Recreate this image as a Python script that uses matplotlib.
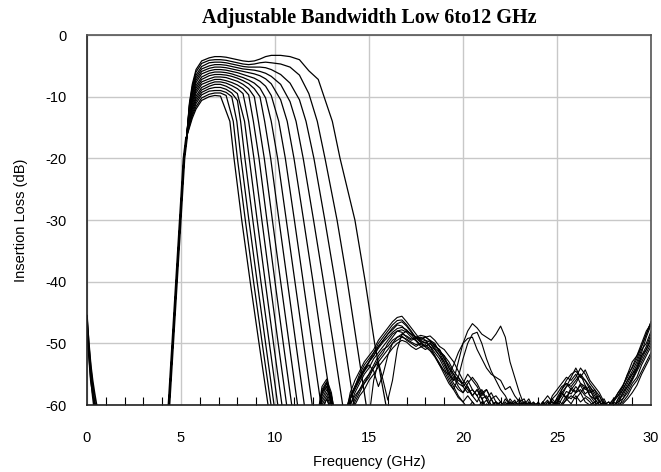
import numpy as np
import matplotlib
matplotlib.use("Agg")
import matplotlib.pyplot as plt
from matplotlib.ticker import MultipleLocator

plt.rcParams["axes.unicode_minus"] = False
nan = np.nan

# shared rising edge (GHz, dB)
rise_f = [4.25, 4.36, 4.56, 4.76, 4.96, 5.16, 5.3]
rise_db = [-64, -60, -50, -40, -30, -20, -16.5]

# passband top, one row per curve (widest -> narrowest)
plat_f = [5.45, 5.6, 5.8, 6.1, 6.5, 6.8, 7.1, 7.4, 7.7, 8.0, 8.3, 8.6, 8.9, 9.2, 9.5, 9.8, 10.3, 10.8, 11.3, 11.8, 12.3]
plat_db = [
    [-11.0, -8.0, -5.6, -4.2, -3.7, -3.5, -3.5, -3.6, -3.8, -4.0, -4.2, -4.3, -4.2, -3.9, -3.5, -3.3, -3.3, -3.5, -4.0, -5.8, -7.2],
    [-11.3, -8.4, -6.0, -4.6, -4.1, -4.0, -4.0, -4.1, -4.3, -4.5, -4.7, -4.8, -4.7, -4.5, -4.4, -4.5, -4.7, -5.2, -6.5, -9.5, nan],
    [-11.5, -8.7, -6.5, -5.1, -4.5, -4.4, -4.4, -4.5, -4.7, -4.9, -5.1, -5.2, -5.2, -5.2, -5.3, -5.6, -6.4, -7.8, -10.5, nan, nan],
    [-11.8, -9.1, -6.9, -5.5, -5.0, -4.8, -4.8, -4.9, -5.1, -5.3, -5.5, -5.6, -5.7, -5.9, -6.2, -6.7, -8.0, -10.8, nan, nan, nan],
    [-12.1, -9.5, -7.3, -5.9, -5.4, -5.2, -5.2, -5.3, -5.5, -5.7, -5.9, -6.1, -6.3, -6.6, -7.1, -7.9, -10.5, nan, nan, nan, nan],
    [-12.3, -9.8, -7.7, -6.3, -5.8, -5.6, -5.6, -5.7, -5.9, -6.1, -6.4, -6.7, -7.0, -7.5, -8.3, -9.8, nan, nan, nan, nan, nan],
    [-12.6, -10.2, -8.2, -6.8, -6.2, -6.0, -6.0, -6.1, -6.3, -6.6, -6.9, -7.3, -7.8, -8.6, -10.2, nan, nan, nan, nan, nan, nan],
    [-12.9, -10.6, -8.6, -7.2, -6.6, -6.4, -6.4, -6.5, -6.7, -7.0, -7.4, -7.9, -8.7, -10.0, nan, nan, nan, nan, nan, nan, nan],
    [-13.1, -10.9, -9.0, -7.6, -7.1, -6.8, -6.8, -6.9, -7.2, -7.5, -8.0, -8.7, -10.0, nan, nan, nan, nan, nan, nan, nan, nan],
    [-13.4, -11.3, -9.4, -8.0, -7.5, -7.2, -7.2, -7.4, -7.7, -8.1, -8.7, -9.7, nan, nan, nan, nan, nan, nan, nan, nan, nan],
    [-13.7, -11.7, -9.9, -8.5, -7.9, -7.6, -7.6, -7.8, -8.2, -8.7, -9.5, nan, nan, nan, nan, nan, nan, nan, nan, nan, nan],
    [-13.9, -12.0, -10.3, -8.9, -8.3, -8.0, -8.0, -8.3, -8.8, -9.5, nan, nan, nan, nan, nan, nan, nan, nan, nan, nan, nan],
    [-14.2, -12.4, -10.7, -9.3, -8.7, -8.5, -8.5, -8.8, -9.4, -10.6, nan, nan, nan, nan, nan, nan, nan, nan, nan, nan, nan],
    [-14.5, -12.8, -11.1, -9.7, -9.1, -9.0, -9.0, -9.3, -10.0, nan, nan, nan, nan, nan, nan, nan, nan, nan, nan, nan, nan],
    [-14.7, -13.1, -11.6, -10.2, -9.6, -9.4, -9.4, -9.8, nan, nan, nan, nan, nan, nan, nan, nan, nan, nan, nan, nan, nan],
    [-15.0, -13.5, -12.0, -10.6, -10.0, -9.8, -9.9, nan, nan, nan, nan, nan, nan, nan, nan, nan, nan, nan, nan, nan, nan],
]

# falling edge: frequency where each curve crosses the level
fall_db = [-14, -20, -30, -40, -50, -60]
f_m14 = [13.05, 12.25, 11.65, 11.12, 10.65, 10.2, 9.8, 9.45, 9.12, 8.85, 8.6, 8.38, 8.17, 7.97, 7.78, 7.6]
f_m20 = [13.46, 12.66, 12.07, 11.5, 11.01, 10.55, 10.14, 9.77, 9.43, 9.15, 8.88, 8.63, 8.4, 8.19, 8.0, 7.82]
f_m30 = [14.25, 13.3, 12.65, 12.05, 11.52, 11.03, 10.6, 10.21, 9.86, 9.57, 9.3, 9.05, 8.82, 8.61, 8.42, 8.23]
f_m40 = [14.8, 13.85, 13.2, 12.58, 12.02, 11.5, 11.06, 10.66, 10.3, 10.0, 9.73, 9.48, 9.25, 9.05, 8.86, 8.68]
f_m50 = [15.3, 14.35, 13.7, 13.1, 12.5, 11.97, 11.52, 11.11, 10.75, 10.44, 10.17, 9.92, 9.7, 9.5, 9.32, 9.15]
f_m60 = [15.9, 14.85, 14.2, 13.6, 13.0, 12.45, 11.98, 11.56, 11.2, 10.89, 10.62, 10.37, 10.15, 9.95, 9.79, 9.63]

# leakage near DC
low_f = [0.0, 0.1, 0.2, 0.3, 0.4, 0.5, 0.6, 0.7]
low_1 = [-45.5, -50.5, -54, -57, -59.5, -62, -64, -66]
low_2 = [-46.5, -51.5, -55.5, -58.5, -61, -63, -65, -67]
low_3 = [-47, -52, -56, -58, -59.5, -60.5, -62, -64]
low_4 = [-46, -50, -53.5, -56, -58, -59.8, -61, -63]

# stopband traces, 12 to 30 GHz every 0.25 GHz
sb_f = [12.0, 12.25, 12.5, 12.75, 13.0, 13.25, 13.5, 13.75, 14.0, 14.25, 14.5, 14.75,
        15.0, 15.25, 15.5, 15.75, 16.0, 16.25, 16.5, 16.75, 17.0, 17.25, 17.5, 17.75,
        18.0, 18.25, 18.5, 18.75, 19.0, 19.25, 19.5, 19.75, 20.0, 20.25, 20.5, 20.75,
        21.0, 21.25, 21.5, 21.75, 22.0, 22.25, 22.5, 22.75, 23.0, 23.25, 23.5, 23.75,
        24.0, 24.25, 24.5, 24.75, 25.0, 25.25, 25.5, 25.75, 26.0, 26.25, 26.5, 26.75,
        27.0, 27.25, 27.5, 27.75, 28.0, 28.25, 28.5, 28.75, 29.0, 29.25, 29.5, 29.75, 30.0]
sb_a = [-66, -62, -57, -55.8, -58, -63, -67, -62,
        -58, -56, -54.5, -53, -52, -51, -49.5, -48.5,
        -47.5, -46.5, -45.8, -45.6, -46.5, -47.5, -48.5, -49.5,
        -50, -49.5, -50.5, -51, -52.5, -53.5, -55, -56.5,
        -57, -56, -57.5, -58.5, -57.5, -59, -58, -59.5,
        -60.5, -59, -60, -61, -60.5, -59.5, -61, -60,
        -61, -59.8, -60.5, -61, -59.5, -58.5, -57, -56.5,
        -55.5, -54, -55, -56.5, -57.5, -58.5, -60, -59.5,
        -60.5, -59, -57.5, -56, -55, -53.5, -51.5, -49, -47]
sb_b = [-67, -64, -58.5, -57, -59.5, -64, -68, -63,
        -59, -57.5, -56, -54.5, -53, -52, -50.5, -49.5,
        -48.5, -47.8, -47, -47.2, -48, -48.5, -49, -49.2,
        -49, -49.5, -50, -51.5, -53, -55, -56, -53,
        -50, -48, -46.8, -47.5, -48.5, -49, -49.5, -48.5,
        -47.2, -49, -53, -55.5, -58, -60, -59, -60.5,
        -59.5, -60.5, -61, -59, -60, -58, -59, -57.5,
        -58, -56.5, -57, -58.5, -59.5, -60.5, -59.5, -60.5,
        -59.5, -60, -58, -57, -55.5, -54, -52, -50.5, -48.5]
sb_c = [-68, -64, -59, -57.5, -59, -65, -69, -64,
        -60, -58, -56.5, -55, -54, -52.5, -51.5, -50.5,
        -49.5, -48.5, -48, -48.2, -49, -49.5, -49.2, -49,
        -49.5, -50.5, -52, -53.5, -54.5, -55, -53.5, -51.5,
        -50, -49.2, -49, -51, -52.5, -54, -55, -55.5,
        -56, -57.5, -57, -58.5, -59.5, -59, -60.5, -60,
        -60.5, -59.5, -58.5, -59.5, -60, -57.5, -56.5, -57.5,
        -56.5, -55, -56, -57.5, -59, -60, -60.5, -61,
        -60, -59.5, -58, -56.5, -55, -54, -52, -51, -49.5]
sb_d = [-70, -70, -70, -70, -70, -70, -70, -70,
        -70, -70, -70, -70, -62, -56, -53, -56,
        -59.2, -56, -51, -48.5, -48, -48.5, -49, -49.5,
        -49, -48.8, -49.5, -50.5, -51, -52, -53, -54.5,
        -56, -57, -58.5, -57.5, -59, -60.5, -59, -60.5,
        -61, -60, -59.5, -61, -60, -59.5, -60.5, -60,
        -59.7, -60.5, -61, -60, -59, -58, -57, -55.5,
        -54, -55.5, -56, -57, -58.5, -59.5, -60.5, -60,
        -59, -58.5, -57, -55, -53, -52, -50.5, -48.5, -46.5]
sb_e = [-66, -63, -58, -56.5, -58.5, -62, -66, -61,
        -59, -57, -55.5, -54.5, -53.5, -54.5, -57, -55,
        -52, -50, -49, -48.8, -49.5, -50, -50.5, -50,
        -50.5, -50, -51, -52, -53.5, -55, -56.5, -57.5,
        -58, -57, -58.5, -59.5, -58, -59, -60.5, -59.5,
        -60, -61, -59.5, -60.5, -60, -61, -59.8, -60.5,
        -60, -61, -59.5, -60.5, -59, -59.8, -58.5, -59,
        -58, -57.5, -58.5, -59, -60, -59.5, -60.5, -61,
        -60.5, -59.5, -59, -58, -56.5, -55.5, -53.5, -52, -50.5]
sb_f6 = [-68, -65, -60, -58.5, -60.5, -65, -67, -62,
         -60, -58.5, -57.5, -56, -55, -54, -53, -52,
         -51, -50, -49.5, -49, -49.3, -49.8, -50.2, -50,
         -49.8, -50.5, -51.5, -52.5, -54, -55.5, -57, -58.5,
         -59.5, -58.5, -59.5, -60.5, -59.5, -60.5, -60, -61,
         -60.5, -59.5, -60.5, -61, -60, -60.5, -59.5, -61,
         -60.5, -59.5, -60.5, -59.8, -60.5, -60, -59.2, -58.5,
         -59, -58, -59.5, -60, -59.5, -61, -60, -60.5,
         -61, -60, -59.5, -58.5, -57, -56, -54.5, -53, -51.5]
sb_g = [-67, -63, -58, -57, -60, -64, -66, -61,
        -58.5, -57, -55.5, -54, -53, -51.5, -50.5, -49.5,
        -48.5, -47.5, -46.8, -46.5, -47.2, -48.2, -49, -49.8,
        -50.5, -50, -50.8, -51.5, -52, -54, -55.5, -57,
        -58, -56.5, -55.5, -56.5, -58, -57.5, -59, -58.5,
        -59.5, -60.5, -59, -60, -60.5, -59.5, -60.2, -59.5,
        -60.5, -59.5, -60.5, -58.5, -57.5, -56.5, -55.5, -56,
        -55, -56.5, -57.5, -57, -58, -59.5, -59, -60.5,
        -59.5, -58.5, -57.5, -56, -54.5, -53, -51, -50, -48]
sb_h = [-69, -66, -61, -59, -61, -66, -68, -63,
        -61, -59, -57.5, -56.5, -55.5, -54, -52.5, -51.5,
        -50, -49, -48, -47.8, -48.2, -49, -49.6, -50.5,
        -51, -50.5, -51, -52, -53, -54.5, -56, -55.5,
        -57, -58, -57.5, -58.5, -60, -59.2, -60.5, -60,
        -59.5, -60.5, -61, -59.8, -60.5, -60, -60.8, -59.6,
        -60.2, -61, -60, -59.5, -60.5, -59, -57.8, -58.2,
        -57, -58, -57, -58.5, -59, -60, -59.5, -61,
        -59.8, -60.5, -59, -57.5, -56, -54.5, -53, -51.5, -50]
sb_i = [-67, -63, -57.5, -56.2, -58.5, -64, -68, -63,
        -59, -57, -55, -53.5, -52.5, -51.5, -50, -49,
        -48, -47, -46.3, -46.2, -47, -48, -49.2, -49.8,
        -49.5, -49.8, -50.2, -51.2, -52, -53, -54.5, -55.5,
        -56.5, -55, -56, -57, -58.5, -57.5, -59, -60.5,
        -59.5, -60.5, -59.5, -60, -59, -60.5, -59.8, -61,
        -59.8, -60.5, -59.5, -60.5, -58.8, -57.5, -56, -55,
        -54.5, -55.5, -54.3, -56, -57, -58, -59.5, -60.5,
        -59.5, -58, -57, -55, -54, -52.5, -50.5, -48.5, -46.5]
sb_j = [-68, -65, -59.5, -58, -60, -65, -69, -65,
        -61.5, -59.5, -58, -56.5, -55, -53.5, -52, -51,
        -50.5, -49.5, -49, -48.5, -48.8, -49.3, -49, -48.7,
        -48.9, -49.6, -50.5, -51, -52.5, -54, -55, -56,
        -56.5, -57.5, -58.5, -57.5, -59, -58.5, -60, -59.5,
        -60.5, -59.8, -60.8, -59.5, -60, -60.7, -59.5, -60.2,
        -61, -60, -59.2, -60.5, -59.5, -58, -58.8, -57.2,
        -57.8, -56.8, -58.2, -57.5, -59, -58.5, -60, -59.5,
        -60.5, -59, -58.5, -57, -55.8, -54.2, -52.5, -51, -49]
sb_k = [-69, -66, -60.5, -59, -61, -66, -70, -66,
        -62, -60, -58.5, -57.5, -56, -55, -53.8, -52.8,
        -51.8, -50.8, -50, -49.5, -49.8, -50.5, -51, -50.6,
        -50.2, -51, -52, -53.2, -54.5, -56, -57.5, -58.8,
        -59.5, -60.5, -59.5, -60.5, -61, -59.8, -60.5, -59.5,
        -60.5, -61, -60, -60.5, -59.5, -60.5, -61, -60,
        -60.5, -59.8, -60.8, -60, -59.5, -60.2, -59, -59.8,
        -58.5, -59.5, -58.8, -59.5, -60.5, -60, -61, -60.2,
        -60.8, -60.2, -59.8, -59, -58, -56.8, -55, -53.5, -52]
sb_l = [-66, -62.5, -57.8, -56.5, -59, -63.5, -67, -62.5,
        -59, -57.2, -55.8, -54.2, -53, -52, -50.8, -49.8,
        -49, -48.2, -47.6, -47.4, -47.8, -48.6, -49.5, -50.2,
        -50.6, -51.2, -52.2, -53.5, -55, -56.5, -57.5, -55.5,
        -52.5, -50, -48.5, -48.2, -50, -52.5, -54.5, -56,
        -57.5, -58.5, -60, -59.2, -60.5, -60, -61, -59.8,
        -60.5, -59.5, -60.2, -59, -58.2, -57, -56.5, -57,
        -56, -55, -56.8, -58, -57.5, -59.2, -60.5, -60,
        -59.2, -58, -56.8, -55.5, -53.8, -52, -50, -48, -46.8]

fig = plt.figure(figsize=(6.61, 4.72), dpi=100)
ax = fig.add_axes([0.1316, 0.1419, 0.8533, 0.7839])

lw = 0.9
for r in range(len(plat_db)):
    top_f = [f for f, v in zip(plat_f, plat_db[r]) if not np.isnan(v)]
    top_v = [v for v in plat_db[r] if not np.isnan(v)]
    edge_f = [f_m14[r], f_m20[r], f_m30[r], f_m40[r], f_m50[r], f_m60[r]]
    ax.plot(rise_f + top_f + edge_f, rise_db + top_v + fall_db, color="black", lw=lw)

# the rising edges of all curves sit on top of each other -> thick bundle
ax.plot(rise_f, rise_db, color="black", lw=2.0, solid_capstyle="butt")

for trace in [low_1, low_2, low_3, low_4]:
    ax.plot(low_f, trace, color="black", lw=1.2)

for trace in [sb_a, sb_b, sb_c, sb_d, sb_e, sb_f6, sb_g, sb_h, sb_i, sb_j, sb_k, sb_l]:
    ax.plot(sb_f, trace, color="black", lw=0.8)

ax.set_xlim(0, 30)
ax.set_ylim(-60, 0)
ax.xaxis.set_major_locator(MultipleLocator(5))
ax.xaxis.set_minor_locator(MultipleLocator(1))
ax.yaxis.set_major_locator(MultipleLocator(10))
ax.grid(True, which="major", color="#c8c8c8", lw=1)
ax.set_axisbelow(True)
ax.tick_params(axis="both", which="major", length=0, labelsize=10.5, pad=15)
ax.tick_params(axis="x", which="major", pad=19)
ax.tick_params(axis="x", which="minor", direction="in", length=6, width=0.8, color="black")
ax.tick_params(axis="y", which="minor", length=0)
for lab in ax.get_xticklabels() + ax.get_yticklabels():
    lab.set_fontfamily("Liberation Sans")

for side in ["left", "bottom"]:
    ax.spines[side].set_color("#202020")
    ax.spines[side].set_linewidth(1.2)
for side in ["top", "right"]:
    ax.spines[side].set_color("#555555")
    ax.spines[side].set_linewidth(1.2)

ax.set_xlabel("Frequency (GHz)", fontfamily="Liberation Sans", fontsize=10.5, labelpad=7)
ax.set_ylabel("Insertion Loss (dB)", fontfamily="Liberation Sans", fontsize=10.5, labelpad=12)
ax.set_title("Adjustable Bandwidth Low 6to12 GHz", fontfamily="Liberation Serif",
             fontweight="bold", fontsize=14.5, pad=9)

fig.savefig("out.png", dpi=100)
